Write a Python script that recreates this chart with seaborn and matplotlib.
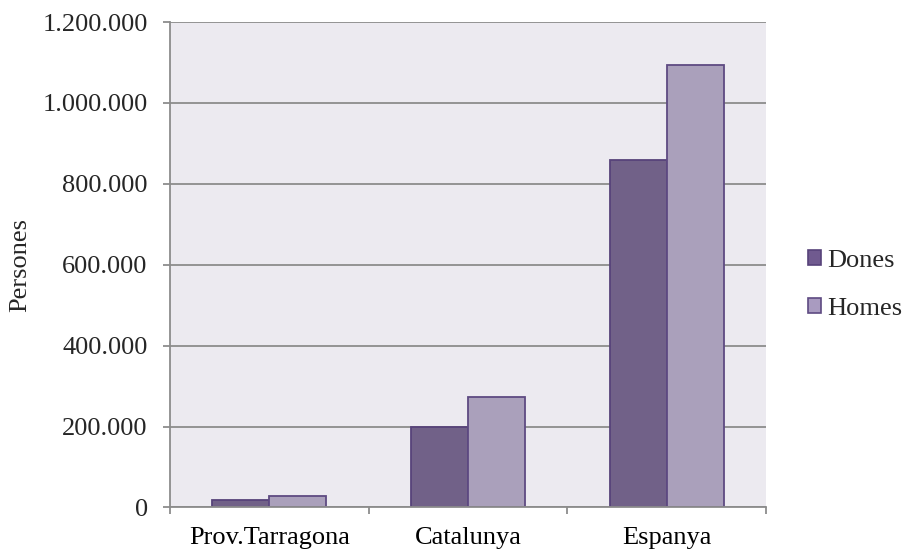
import numpy as np
import pandas as pd
import matplotlib
matplotlib.use("Agg")
import matplotlib.pyplot as plt
import seaborn as sns
from matplotlib.ticker import FuncFormatter, FixedLocator
from matplotlib.patches import Patch

regions = ["Prov.Tarragona", "Catalunya", "Espanya"]
dones = [18600, 198500, 860000]
homes = [27800, 272000, 1093000]
series = ["Dones", "Homes"]

df = pd.DataFrame({
    "regio": regions * 2,
    "sexe": ["Dones"] * 3 + ["Homes"] * 3,
    "persones": dones + homes,
})

sns.set_theme(style="white")
plt.rcParams["font.family"] = ["Liberation Serif", "DejaVu Serif"]

fill = {"Dones": "#705A8F", "Homes": "#A99BC0"}
edge = {"Dones": "#57437A", "Homes": "#5E4A82"}
fs = 19

fig = plt.figure(figsize=(9.06, 5.51), dpi=100)
ax = fig.add_axes([0.1876, 0.079, 0.658, 0.881])
ax.set_facecolor("#ECEAF0")

sns.barplot(data=df, x="regio", y="persones", hue="sexe", order=regions,
            hue_order=series, palette=fill, width=0.575, gap=0,
            linewidth=1.3, ax=ax, legend=False)

for i, bar in enumerate(ax.patches):
    bar.set_edgecolor(edge[series[i // 3]])

ax.set_ylim(0, 1200000)
ax.set_xlim(-0.5, 2.5)
ax.set_yticks(np.arange(0, 1200001, 200000))
ax.yaxis.set_major_formatter(FuncFormatter(lambda v, p: f"{int(v):,}".replace(",", ".")))
ax.yaxis.grid(True, color="#8C8C8C", linewidth=1.3)
ax.set_axisbelow(True)

ax.xaxis.set_minor_locator(FixedLocator([-0.5, 0.5, 1.5, 2.5]))
ax.tick_params(axis="x", which="major", length=0, pad=14, labelsize=fs, colors="black")
ax.tick_params(axis="x", which="minor", length=5, width=1.3, color="#8C8C8C", direction="out", bottom=True)
ax.tick_params(axis="y", length=5, width=1.3, color="#8C8C8C", direction="out", left=True, pad=11, labelsize=fs)

for s in ["top", "right"]:
    ax.spines[s].set_visible(False)
for s in ["left", "bottom"]:
    ax.spines[s].set_color("#8C8C8C")
    ax.spines[s].set_linewidth(1.3)

ax.set_xlabel("")
ax.set_ylabel("Persones", fontsize=fs, labelpad=8)

handles = [Patch(facecolor=fill[s], edgecolor=edge[s], linewidth=1.2, label=s) for s in series]
ax.legend(handles=handles, loc="center left", bbox_to_anchor=(1.07, 0.458), frameon=False,
          fontsize=fs, handlelength=0.5, handleheight=0.5, handletextpad=0.25, labelspacing=1.0,
          borderpad=0, borderaxespad=0)

fig.savefig("out.png", dpi=100)
